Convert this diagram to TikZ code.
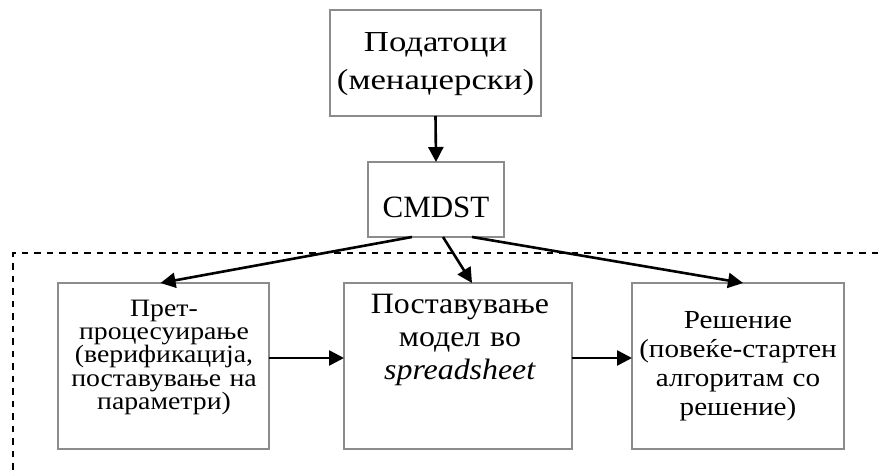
\documentclass[tikz,border=0pt]{standalone}
\usepackage{fontspec}
\setmainfont{Liberation Serif}
% widened cuts of the serif face for the box captions
\newfontfamily\widetop[FakeStretch=1.2]{Liberation Serif}
\newfontfamily\widepre[FakeStretch=1.11]{Liberation Serif}
\newfontfamily\widemodel[FakeStretch=1.08]{Liberation Serif}
\newfontfamily\widesol[FakeStretch=1.12]{Liberation Serif}
\usetikzlibrary{arrows.meta}

\tikzset{
  box/.style={draw=black!45, line width=1.7pt, inner sep=0pt, outer sep=0pt},
  label/.style={inner sep=0pt, outer sep=0pt, anchor=base, align=center, text width=260pt},
  flow/.style={line width=2.6pt, -{Triangle[length=15pt,width=15pt]}},
  frame/.style={line width=2.1pt, dash pattern=on 6.5pt off 6pt},
}

\begin{document}
\begin{tikzpicture}[x=1pt, y=-1pt]
\useasboundingbox (0,0) rectangle (878,476);

% dashed frame around the processing stage
\draw[frame] (878,253) -| (13,476);

% boxes
\node[box, minimum width=211pt, minimum height=106pt] (data)  at (435.5,63)  {};
\node[box, minimum width=136pt, minimum height=75pt]  (cmdst) at (436,199.5) {};
\node[box, minimum width=211pt, minimum height=166pt] (pre)   at (163.5,366) {};
\node[box, minimum width=228pt, minimum height=166pt] (model) at (458,366)   {};
\node[box, minimum width=212pt, minimum height=166pt] (sol)   at (738,366)   {};

% box texts
\node[label, font=\widetop\fontsize{29}{38}\selectfont] (tdata) at (435.5,52)
  {Податоци\\(менаџерски)};
\node[label, font=\fontsize{31}{37}\selectfont] (tcmdst) at (436,217) {CMDST};
\node[label, font=\widepre\fontsize{25}{23.4}\selectfont] (tpre) at (164,316)
  {Прет-\\процесуирање\\(верификација,\\поставување на\\параметри)};
\node[label, font=\widemodel\fontsize{29.5}{33}\selectfont] (tmodel) at (460,313)
  {Поставување\\модел во\\\textit{spreadsheet}};
\node[label, font=\widesol\fontsize{26}{29}\selectfont] (tsol) at (738,328)
  {Решение\\(повеќе-стартен\\алгоритам со\\решение)};

% connectors
\draw[flow] (data.south) -- (cmdst.north);
\draw[flow] ([xshift=-24pt]cmdst.south) -- ([xshift=-3pt]pre.north);
\draw[flow] ([xshift=7pt]cmdst.south) -- ([xshift=14pt]model.north);
\draw[flow] ([xshift=36pt]cmdst.south) -- ([xshift=5pt]sol.north);
\draw[flow] ([yshift=8pt]pre.east) -- ([yshift=8pt]model.west);
\draw[flow] ([yshift=8pt]model.east) -- ([yshift=8pt]sol.west);
\end{tikzpicture}
\end{document}
